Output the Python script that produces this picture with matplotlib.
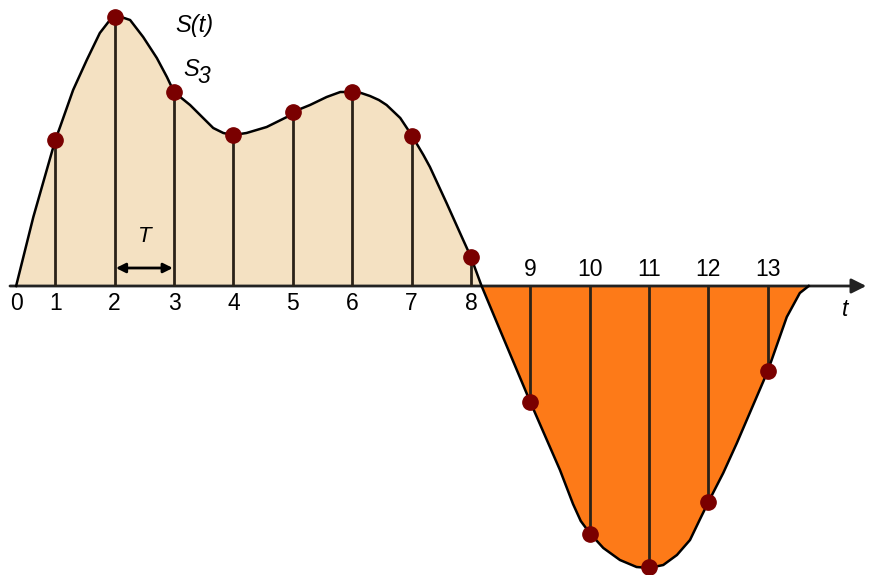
import matplotlib.pyplot as plt
import numpy as np

plt.rcParams['font.family'] = ['Liberation Sans', 'DejaVu Sans']

# sampled values S(k), k = 1..13 (height above the t axis)
sample_t = [1, 2, 3, 4, 5, 6, 7, 8, 9, 10, 11, 12, 13]
sample_s = [146, 269, 194, 151, 174, 194, 150, 29, -116, -248, -281, -216, -85]

# continuous signal S(t)
curve_t = [0.34, 0.63, 1.0, 1.08, 1.30, 1.53, 1.75, 1.92, 2.06, 2.26, 2.48, 2.71, 2.88,
           3.0, 3.27, 3.49, 3.66, 3.83, 4.0, 4.22, 4.56, 4.90, 5.0, 5.29, 5.57, 5.80,
           6.0, 6.15, 6.30, 6.45, 6.58, 6.81, 7.0, 7.2, 7.31, 7.59, 7.87, 8.0, 8.18,
           8.49, 9.0, 9.5, 9.72, 9.85, 10.0, 10.23, 10.51, 10.79, 11.0, 11.24, 11.47,
           11.69, 11.86, 12.0, 12.25, 12.48, 13.0, 13.32, 13.54, 13.69]
curve_s = [0, 69, 146, 159, 196, 226, 253, 266, 270, 266, 249, 228, 209,
           194, 181, 168, 158, 153, 151, 153, 159, 169, 174, 181, 189, 194,
           194, 193, 190, 186, 181, 168, 151, 131, 119, 83, 46, 29, 0,
           -44, -116, -184, -218, -235, -247, -262, -274, -281, -282, -279, -269,
           -254, -233, -216, -187, -157, -85, -31, -7, 0]

below_labels = ['0', '1', '2', '3', '4', '5', '6', '7', '8']
below_pos = [0.34, 1, 2, 3, 4, 5, 6, 7, 8]
above_labels = ['9', '10', '11', '12', '13']
above_pos = [9, 10, 11, 12, 13]

beige = '#F4E1C2'
orange = '#FD7A18'
dot = '#7A0000'

fig = plt.figure(figsize=(8.69, 5.75), dpi=100)
ax = fig.add_axes([0, 0, 1, 1])
ax.set_xlim(0.0686, 14.705)
ax.set_ylim(-289, 286)
ax.axis('off')

ct = np.array(curve_t)
cs = np.array(curve_s)
ax.fill_between(ct, cs, 0, where=cs >= 0, interpolate=True, color=beige, lw=0, zorder=1)
ax.fill_between(ct, cs, 0, where=cs <= 0, interpolate=True, color=orange, lw=0, zorder=1)

# t axis with arrow head
ax.annotate('', xy=(14.705, 0), xytext=(0.19, 0),
            arrowprops=dict(arrowstyle='-|>', color='#222222', lw=2, mutation_scale=22),
            zorder=2)

ax.plot(ct, cs, color='black', lw=1.8, zorder=3, solid_joinstyle='round')
ax.vlines(sample_t, 0, sample_s, color='#2a2218', lw=2, zorder=2)
ax.plot(sample_t, sample_s, 'o', color=dot, ms=11, zorder=4)

for lab, x in zip(below_labels, below_pos):
    ax.text(x, -17, lab, ha='center', va='center', fontsize=16.5)
for lab, x in zip(above_labels, above_pos):
    ax.text(x, 16, lab, ha='center', va='center', fontsize=16.5)

ax.text(14.3, -23, 't', ha='center', va='center', fontsize=16.5, style='italic')
ax.text(3.02, 254, 'S(t)', ha='left', va='baseline', fontsize=17, style='italic')
# S with subscript 3 (sample label)
ax.text(3.15, 210, 'S', ha='left', va='baseline', fontsize=17, style='italic')
ax.text(3.39, 203, '3', ha='left', va='baseline', fontsize=16.5, style='italic')

# sampling period T
ax.annotate('', xy=(2.02, 18), xytext=(2.98, 18),
            arrowprops=dict(arrowstyle='<|-|>', color='black', lw=2, mutation_scale=14,
                            shrinkA=0, shrinkB=0))
ax.text(2.5, 49, 'T', ha='center', va='center', fontsize=16, style='italic')

fig.savefig('out.png', dpi=100)
